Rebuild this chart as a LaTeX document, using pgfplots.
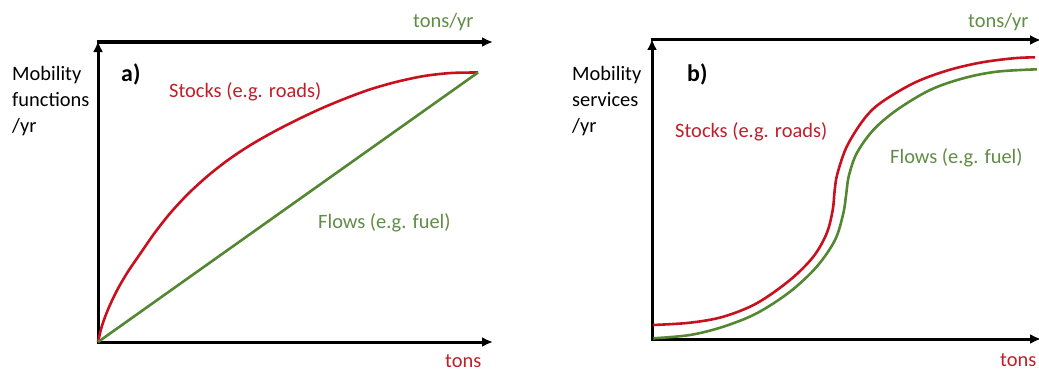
\documentclass[border=0pt]{standalone}
\usepackage{pgfplots}
\pgfplotsset{compat=1.18}
\usepackage{fontspec}
\setmainfont{Carlito}
\usetikzlibrary{arrows.meta}
\definecolor{cred}{RGB}{200,16,30}
\definecolor{cgreen}{RGB}{84,135,50}
\definecolor{tred}{RGB}{192,30,40}
\definecolor{tgreen}{RGB}{96,140,70}
\begin{document}
\begin{tikzpicture}[x=1bp,y=1bp,
  lab/.style={font=\fontsize{20.5}{25}\selectfont, inner sep=0pt, anchor=base west},
  ax/.style={line width=3bp, -{Latex[length=11bp,width=10bp]}}]
\useasboundingbox (0,0) rectangle (1039,371);
\begin{axis}[at={(98,29)}, anchor=south west, scale only axis,
  width=395bp, height=300bp, xmin=0, xmax=395, ymin=0, ymax=300,
  hide axis, clip=false]
\draw[ax] (axis cs:0,-1.5) -- (axis cs:0,301);
\draw[ax] (axis cs:-1.5,300) -- (axis cs:395,300);
\draw[ax] (axis cs:-1.5,0) -- (axis cs:395,0);
\addplot[cred, line width=2.6bp, smooth, tension=0.5] coordinates {
(0,0) (4.18,16.9) (10.64,34) (19.26,52.1) (29.92,70.3) (42.5,88.7) (56.88,109.4)
(72.94,129.7) (90.56,148.6) (109.63,166) (130,182) (151.58,196.4) (174.24,209.4)
(197.87,221.6) (222.32,233.1) (247.5,243.6) (273.28,253) (299.55,260.4)
(326.16,266) (353.02,269) (380,269.5)};
\addplot[cgreen, line width=2.6bp] coordinates {(0,0) (380,269.5)};
\end{axis}
\begin{axis}[at={(652,32)}, anchor=south west, scale only axis,
  width=387bp, height=299bp, xmin=0, xmax=387, ymin=0, ymax=299,
  hide axis, clip=false]
\draw[ax] (axis cs:0,-1.5) -- (axis cs:0,300);
\draw[ax] (axis cs:-1.5,299) -- (axis cs:389,299);
\draw[ax] (axis cs:-1.5,0) -- (axis cs:389,0);
\addplot[cred, line width=2.6bp, smooth, tension=0.55] coordinates {
(1,14) (38,16.3) (71.3,22.3) (104.7,35.7) (138,59) (161.3,82.3) (174.7,105.7)
(180.7,129) (182.6,148) (185.3,165) (194.7,192.3) (211.3,219) (228,235.7)
(261.3,255.7) (294.7,268.3) (328,276.3) (361.3,280.7) (383,281.7)};
\addplot[cgreen, line width=2.6bp, smooth, tension=0.55] coordinates {
(1.3,0.7) (38,4) (71.3,12.3) (104.7,25.7) (138,47.3) (164.7,72.3) (183,99)
(191.3,125.7) (194.2,145) (196.8,163) (204.7,185.7) (221.3,209) (244.7,229)
(278,249) (311.3,260.7) (344.7,267.3) (385,269.7)};
\end{axis}
% panel a texts
\node[lab] at (12,{371-80}) {Mobility};
\node[lab] at (12,{371-106}) {functions};
\node[lab] at (12,{371-132}) {/yr};
\node[lab, font=\fontsize{24}{28}\selectfont\bfseries] at (121,{371-81}) {a)};
\node[lab, text=tred] at (169,{371-97}) {Stocks (e.g. roads)};
\node[lab, text=tgreen] at (318,{371-228}) {Flows (e.g. fuel)};
\node[lab, text=tgreen] at (413,{371-27}) {tons/yr};
\node[lab, text=tred] at (445,{371-367}) {tons};
% panel b texts
\node[lab] at (572,{371-80}) {Mobility};
\node[lab] at (572,{371-106}) {services};
\node[lab] at (572,{371-132}) {/yr};
\node[lab, font=\fontsize{24}{28}\selectfont\bfseries] at (687,{371-81}) {b)};
\node[lab, text=tred] at (675,{371-137}) {Stocks (e.g. roads)};
\node[lab, text=tgreen] at (890,{371-163}) {Flows (e.g. fuel)};
\node[lab, text=tgreen] at (968,{371-27}) {tons/yr};
\node[lab, text=tred] at (1000,{371-366}) {tons};
\end{tikzpicture}
\end{document}
